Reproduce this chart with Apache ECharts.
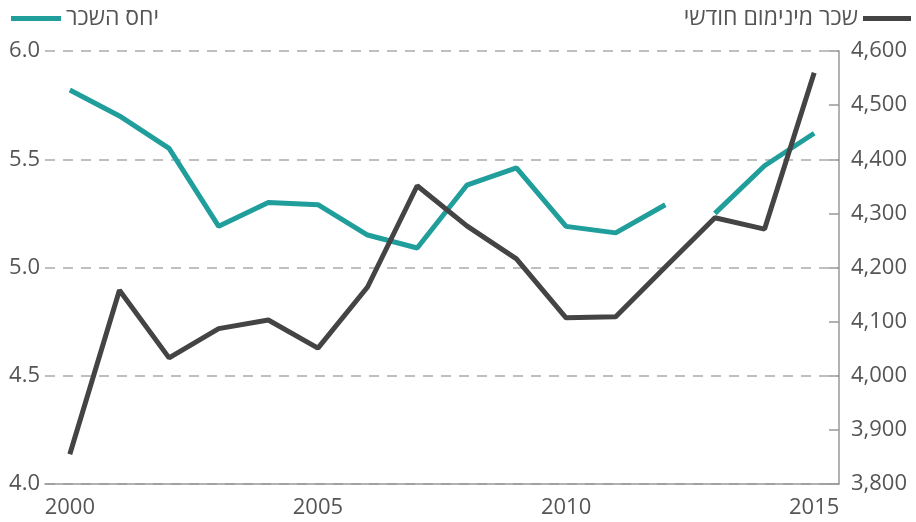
<!DOCTYPE html>
<html>
<head>
<meta charset="utf-8">
<script src="https://cdn.jsdelivr.net/npm/echarts@6/dist/echarts.min.js"></script>
<style>
  html, body { margin: 0; padding: 0; background: #fff; }
  #main { width: 916px; height: 522px; }
</style>
</head>
<body>
<div id="main"></div>
<script>
var years = ['2000','2001','2002','2003','2004','2005','2006','2007','2008','2009','2010','2011','2012','2013','2014','2015'];
// יחס השכר (left axis)
var ratio = [5.82, 5.70, 5.55, 5.19, 5.30, 5.29, 5.15, 5.09, 5.38, 5.46, 5.19, 5.16, 5.29, 5.25, 5.47, 5.62];
// שכר מינימום חודשי (right axis)
var wage = [3855, 4158, 4033, 4087, 4103, 4051, 4164, 4351, 4277, 4216, 4107, 4109, 4201, 4292, 4271, 4560];
// the ratio line is broken between 2012 and 2013
var ratioA = ratio.map(function (v, i) { return i <= 12 ? v : null; });
var ratioB = ratio.map(function (v, i) { return i >= 13 ? v : null; });

var teal = '#1f9e9b';
var dark = '#444444';
var grey = '#555555';
var font = 'Open Sans';

var chart = echarts.init(document.getElementById('main'));

var option = {
    animation: false,
    textStyle: { fontFamily: font },
    grid: { left: 45, right: 77, top: 51, bottom: 38 },
    legend: [
        {
            left: 6, top: 2,
            data: [{ name: 'יחס השכר' }],
            icon: 'rect', itemWidth: 50, itemHeight: 5, itemGap: 10,
            textStyle: { color: grey, fontSize: 23, fontFamily: font }
        },
        {
            right: 0, top: 2, align: 'right',
            data: [{ name: 'שכר מינימום חודשי' }],
            icon: 'rect', itemWidth: 48, itemHeight: 5,
            textStyle: { color: grey, fontSize: 23, fontFamily: font }
        }
    ],
    xAxis: {
        type: 'category',
        data: years,
        boundaryGap: true,
        axisLine: { lineStyle: { color: '#999', width: 1.5 } },
        axisTick: { alignWithLabel: true, length: 8, lineStyle: { color: '#999', width: 1.5 } },
        axisLabel: {
            color: grey, fontSize: 22, margin: 13,
            interval: function (i, v) { return v % 5 === 0; }
        }
    },
    yAxis: [
        {
            type: 'value', min: 4.0, max: 6.0, interval: 0.5,
            axisLine: { show: false },
            axisTick: { show: false },
            axisLabel: {
                color: grey, fontSize: 22, margin: 5,
                formatter: function (v) { return v.toFixed(1); }
            },
            splitLine: { lineStyle: { color: '#aaa', type: [10, 8], width: 1.5 } }
        },
        {
            type: 'value', min: 3800, max: 4600, interval: 100,
            position: 'right',
            axisLine: { show: true, lineStyle: { color: '#999', width: 1.5 } },
            axisTick: { show: true, inside: true, length: 10, lineStyle: { color: '#999', width: 1.5 } },
            axisLabel: {
                color: grey, fontSize: 22, margin: 12,
                formatter: function (v) { return v.toLocaleString('en-US'); }
            },
            splitLine: { show: false }
        }
    ],
    series: [
        {
            name: 'יחס השכר', type: 'line', yAxisIndex: 0,
            data: ratioA, showSymbol: false, symbol: 'none',
            lineStyle: { color: teal, width: 5 }, itemStyle: { color: teal }
        },
        {
            name: 'יחס השכר', type: 'line', yAxisIndex: 0,
            data: ratioB, showSymbol: false, symbol: 'none',
            lineStyle: { color: teal, width: 5 }, itemStyle: { color: teal }
        },
        {
            name: 'שכר מינימום חודשי', type: 'line', yAxisIndex: 1,
            data: wage, showSymbol: false, symbol: 'none',
            lineStyle: { color: dark, width: 5 }, itemStyle: { color: dark }
        }
    ]
};

chart.setOption(option);
</script>
</body>
</html>
